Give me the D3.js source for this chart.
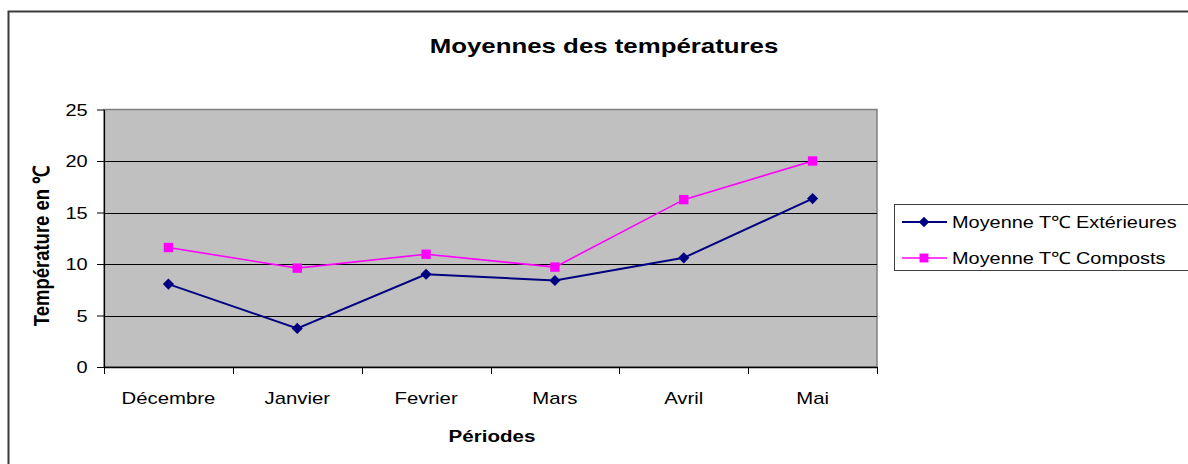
<!DOCTYPE html>
<html>
<head>
<meta charset="utf-8">
<script src="https://cdn.jsdelivr.net/npm/d3@7"></script>
<style>
  html, body { margin: 0; padding: 0; background: #fff; }
  svg { display: block; font-family: "Liberation Sans", Arial, sans-serif; }
</style>
</head>
<body>
<svg id="chart" width="1188" height="464"></svg>
<script>
// Monthly periods and average temperatures (°C)
const periods = ["Décembre", "Janvier", "Fevrier", "Mars", "Avril", "Mai"];
const tempExterieures = [8.05, 3.75, 9.0, 8.4, 10.6, 16.35];
const tempComposts = [11.6, 9.6, 10.95, 9.7, 16.25, 20.0];
const yTicks = [0, 5, 10, 15, 20, 25];
const seriesNames = ["Moyenne T℃ Extérieures", "Moyenne T℃ Composts"];

const svg = d3.select("#chart");
const SX = 1.21; // horizontal text stretch of the chart's typography

const plot = { left: 104, right: 877, top: 109.5, bottom: 367 };

// Outer chart frame
svg.append("rect")
  .attr("x", 8.5).attr("y", 11.5)
  .attr("width", 1200).attr("height", 480)
  .attr("fill", "#fff")
  .attr("stroke", "#3a3a3a").attr("stroke-width", 2);

const x = d3.scaleBand().domain(periods).range([plot.left, plot.right]).padding(0);
const y = d3.scaleLinear().domain([0, 25]).range([plot.bottom, plot.top]);
const cx = d => x(d) + x.bandwidth() / 2;

// Plot area background
svg.append("rect")
  .attr("x", plot.left).attr("y", plot.top)
  .attr("width", plot.right - plot.left).attr("height", plot.bottom - plot.top)
  .attr("fill", "#c0c0c0")
  .attr("stroke", "#808080").attr("stroke-width", 1.5);

// Horizontal gridlines
svg.append("g").selectAll("line")
  .data(yTicks.filter(v => v > 0 && v < 25))
  .join("line")
  .attr("x1", plot.left).attr("x2", plot.right)
  .attr("y1", d => Math.round(y(d)) + 0.5).attr("y2", d => Math.round(y(d)) + 0.5)
  .attr("stroke", "#000").attr("stroke-width", 1);

// Y axis
const yAxis = svg.append("g")
  .attr("transform", `translate(${plot.left},0)`)
  .call(d3.axisLeft(y).tickValues(yTicks).tickSize(7).tickSizeOuter(0));
yAxis.select(".domain").attr("stroke", "#000").attr("stroke-width", 1.2);
yAxis.selectAll(".tick line").attr("stroke", "#000");
yAxis.selectAll(".tick text")
  .attr("x", -13.5).attr("dy", "0.36em")
  .attr("transform", `scale(${SX},1)`)
  .attr("font-size", 16.5).attr("fill", "#000")
  .style("font-family", "'Liberation Sans', Arial, sans-serif");

// X axis: labels centred in each period, ticks at the period boundaries
const xAxis = svg.append("g")
  .attr("transform", `translate(0,${plot.bottom})`)
  .call(d3.axisBottom(x).tickSize(0).tickSizeOuter(0));
xAxis.select(".domain").attr("stroke", "#000").attr("stroke-width", 1.5);
xAxis.selectAll(".tick text")
  .attr("y", 37).attr("dy", 0)
  .attr("transform", `scale(${SX},1)`)
  .attr("font-size", 16.8).attr("fill", "#000")
  .style("font-family", "'Liberation Sans', Arial, sans-serif");
xAxis.append("g").selectAll("line")
  .data(d3.range(periods.length + 1))
  .join("line")
  .attr("x1", i => Math.round(plot.left + i * x.bandwidth()) + 0.5)
  .attr("x2", i => Math.round(plot.left + i * x.bandwidth()) + 0.5)
  .attr("y1", 0).attr("y2", 7)
  .attr("stroke", "#000");

// Series lines and markers (diamond = square turned 45°)
const series = [
  { name: seriesNames[0], values: tempExterieures, color: "#000080", width: 2, size: 62, rot: 45 },
  { name: seriesNames[1], values: tempComposts, color: "#ff00ff", width: 1.6, size: 88, rot: 0 }
];

const line = d3.line().x((d, i) => cx(periods[i])).y(d => y(d));

series.forEach(s => {
  svg.append("path")
    .datum(s.values)
    .attr("d", line)
    .attr("fill", "none")
    .attr("stroke", s.color)
    .attr("stroke-width", s.width);
  svg.append("g").selectAll("path")
    .data(s.values)
    .join("path")
    .attr("d", d3.symbol(d3.symbolSquare, s.size))
    .attr("transform", (d, i) => `translate(${cx(periods[i])},${y(d)}) rotate(${s.rot})`)
    .attr("fill", s.color);
});

// Title
svg.append("text")
  .attr("transform", `translate(604,53) scale(1.23,1)`)
  .attr("text-anchor", "middle")
  .attr("font-size", 21).attr("font-weight", "bold")
  .text("Moyennes des températures");

// Axis titles
svg.append("text")
  .attr("transform", `translate(492,442) scale(${SX},1)`)
  .attr("text-anchor", "middle")
  .attr("font-size", 17).attr("font-weight", "bold")
  .text("Périodes");

svg.append("text")
  .attr("transform", `translate(49,246) rotate(-90) scale(1,${SX})`)
  .attr("text-anchor", "middle")
  .attr("font-size", 18.5).attr("font-weight", "bold")
  .text("Température en ℃");

// Legend
const legend = svg.append("g");
legend.append("rect")
  .attr("x", 894.5).attr("y", 204.5)
  .attr("width", 320).attr("height", 66)
  .attr("fill", "#fff")
  .attr("stroke", "#404040").attr("stroke-width", 1);

const rowY = [222, 258];
series.forEach((s, i) => {
  const g = legend.append("g").attr("transform", `translate(0,${rowY[i]})`);
  g.append("line")
    .attr("x1", 902).attr("x2", 947)
    .attr("y1", 0).attr("y2", 0)
    .attr("stroke", s.color).attr("stroke-width", s.width);
  g.append("path")
    .attr("d", d3.symbol(d3.symbolSquare, s.size * 0.9))
    .attr("transform", `translate(924,0) rotate(${s.rot})`)
    .attr("fill", s.color);
  g.append("text")
    .attr("transform", `translate(952,0) scale(1.17,1)`)
    .attr("dy", "0.36em")
    .attr("font-size", 17)
    .text(s.name);
});
</script>
</body>
</html>
